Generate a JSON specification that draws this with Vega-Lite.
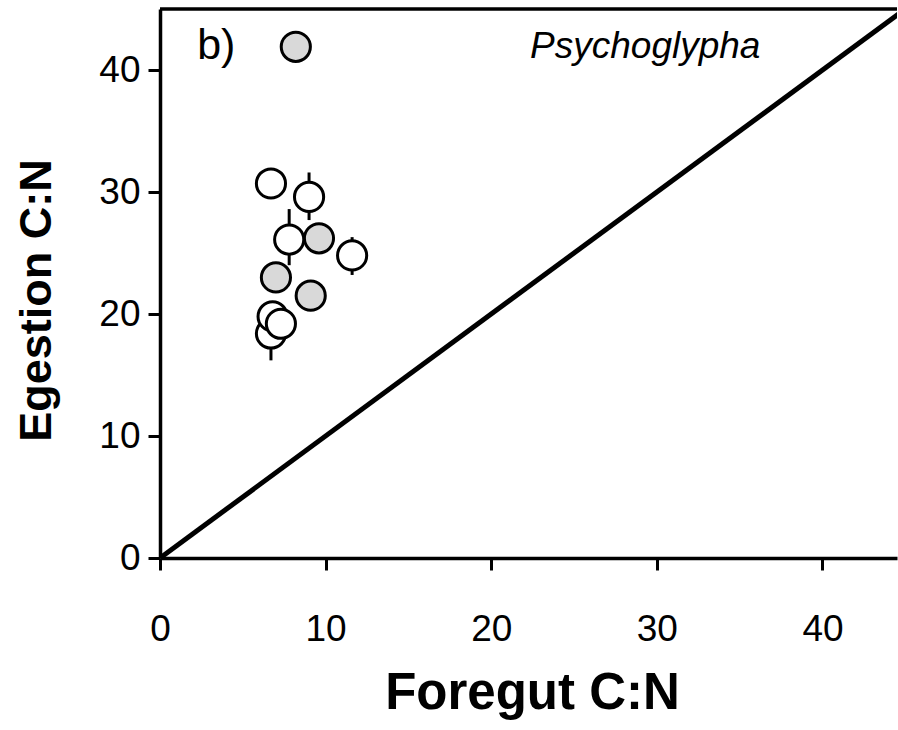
{
  "$schema": "https://vega.github.io/schema/vega-lite/v6.json",
  "width": 737,
  "height": 549,
  "autosize": {"type": "none"},
  "padding": {"left": 160, "top": 9, "right": 1, "bottom": 172},
  "background": "white",
  "config": {
    "view": {"stroke": null},
    "font": "Liberation Sans"
  },
  "datasets": {
    "samples": [
      {"fg": 6.7, "eg": 30.7, "kind": "open"},
      {"fg": 9.0, "eg": 29.6, "kind": "open", "lo": 27.7, "hi": 31.6},
      {"fg": 7.8, "eg": 26.1, "kind": "open", "lo": 24.0, "hi": 28.6},
      {"fg": 11.6, "eg": 24.8, "kind": "open", "lo": 23.2, "hi": 26.3},
      {"fg": 6.7, "eg": 18.4, "kind": "open", "lo": 16.2, "hi": 20.6},
      {"fg": 6.8, "eg": 19.8, "kind": "open"},
      {"fg": 7.3, "eg": 19.2, "kind": "open"},
      {"fg": 8.2, "eg": 41.9, "kind": "shaded"},
      {"fg": 9.6, "eg": 26.2, "kind": "shaded"},
      {"fg": 7.0, "eg": 23.0, "kind": "shaded"},
      {"fg": 9.1, "eg": 21.5, "kind": "shaded"}
    ],
    "oneToOne": [
      {"fg": 0, "eg": 0},
      {"fg": 45, "eg": 45}
    ],
    "frame": [
      {"fg": 0, "fgEnd": 44.5, "eg": 45}
    ],
    "panelTag": [
      {"fg": 3.4, "eg": 42, "note": "b)"}
    ],
    "genus": [
      {"fg": 29.3, "eg": 41.9, "note": "Psychoglypha"}
    ]
  },
  "encoding": {
    "x": {
      "field": "fg",
      "type": "quantitative",
      "title": "Foregut C:N",
      "scale": {"domain": [0, 44.5], "nice": false, "zero": true},
      "axis": {
        "values": [0, 10, 20, 30, 40],
        "grid": false,
        "domainColor": "black",
        "domainWidth": 3.5,
        "tickColor": "black",
        "tickWidth": 3,
        "tickSize": 12,
        "labelFontSize": 37,
        "labelColor": "black",
        "labelPadding": 41,
        "labelFlush": false,
        "titleFontSize": 51,
        "titleFontWeight": "bold",
        "titleColor": "black",
        "titleBaseline": "alphabetic",
        "titleX": 372,
        "titleY": 150
      }
    },
    "y": {
      "field": "eg",
      "type": "quantitative",
      "title": "Egestion C:N",
      "scale": {"domain": [0, 45], "nice": false, "zero": true},
      "axis": {
        "values": [0, 10, 20, 30, 40],
        "grid": false,
        "domainColor": "black",
        "domainWidth": 3.5,
        "tickColor": "black",
        "tickWidth": 3,
        "tickSize": 12,
        "labelFontSize": 37,
        "labelColor": "black",
        "labelPadding": 8,
        "titleFontSize": 45,
        "titleFontWeight": "bold",
        "titleColor": "black",
        "titleAngle": -90,
        "titleBaseline": "alphabetic",
        "titleX": -110,
        "titleY": 291
      }
    }
  },
  "layer": [
    {
      "data": {"name": "oneToOne"},
      "mark": {"type": "line", "color": "black", "strokeWidth": 5, "clip": true}
    },
    {
      "data": {"name": "frame"},
      "mark": {"type": "rule", "color": "black", "strokeWidth": 3.5},
      "encoding": {
        "x2": {"field": "fgEnd"}
      }
    },
    {
      "data": {"name": "samples"},
      "transform": [{"filter": "isValid(datum.lo)"}],
      "mark": {"type": "rule", "color": "black", "strokeWidth": 3},
      "encoding": {
        "y": {"field": "lo", "type": "quantitative", "title": "Egestion C:N"},
        "y2": {"field": "hi"}
      }
    },
    {
      "data": {"name": "samples"},
      "mark": {
        "type": "point",
        "shape": "circle",
        "filled": true,
        "size": 850,
        "stroke": "black",
        "strokeWidth": 3,
        "opacity": 1
      },
      "encoding": {
        "fill": {
          "field": "kind",
          "type": "nominal",
          "scale": {"domain": ["open", "shaded"], "range": ["white", "#d9d9d9"]},
          "legend": null
        }
      }
    },
    {
      "data": {"name": "panelTag"},
      "mark": {"type": "text", "fontSize": 43, "color": "black", "align": "center", "baseline": "middle"},
      "encoding": {"text": {"field": "note"}}
    },
    {
      "data": {"name": "genus"},
      "mark": {"type": "text", "fontSize": 37, "fontStyle": "italic", "color": "black", "align": "center", "baseline": "middle"},
      "encoding": {"text": {"field": "note"}}
    }
  ]
}
